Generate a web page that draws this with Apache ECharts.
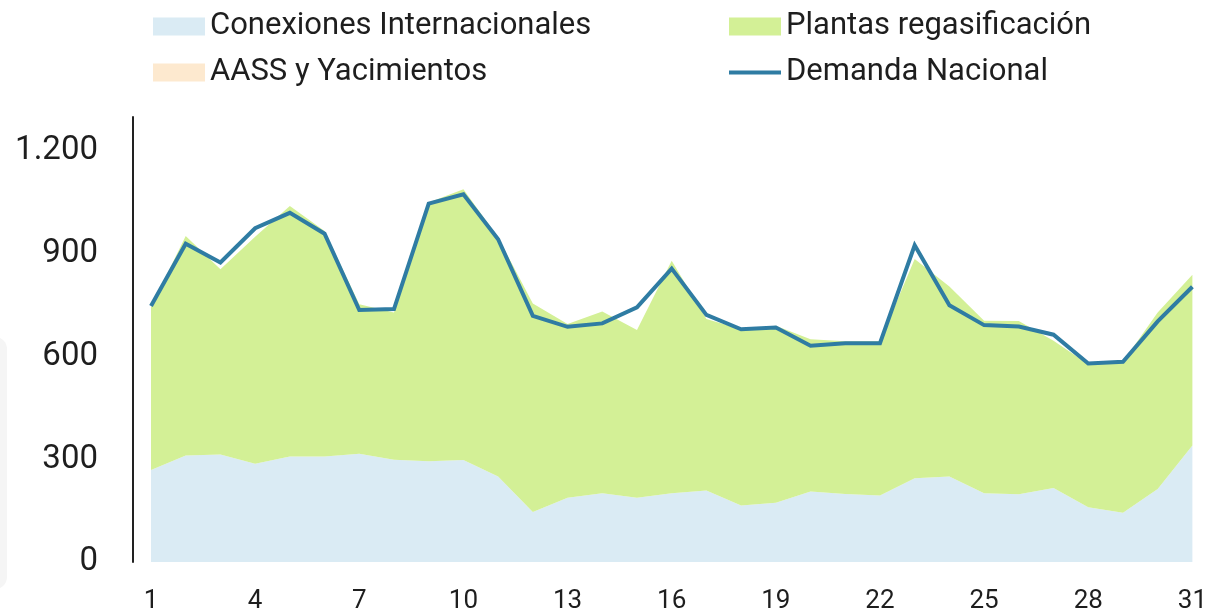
<!DOCTYPE html>
<html>
<head>
<meta charset="utf-8">
<script src="https://cdn.jsdelivr.net/npm/echarts@6/dist/echarts.min.js"></script>
<style>
  html, body { margin: 0; padding: 0; background: #ffffff; }
  #chart { width: 1210px; height: 615px; }
</style>
</head>
<body>
<div id="chart"></div>
<script>
// ---- Data (GWh/día) ----
const days = ['1','2','3','4','5','6','7','8','9','10','11','12','13','14','15','16','17','18','19','20','21','22','23','24','25','26','27','28','29','30','31'];
const conexionesInternacionales = [269,311,314,287,308,308,316,299,294,298,250,146,188,201,188,201,209,165,173,206,199,194,245,250,201,198,216,160,144,213,340];
const plantasRegasificacion = [476,641,541,663,732,659,437,430,756,791,698,609,507,531,490,679,501,515,517,445,446,451,640,555,504,506,430,418,441,516,499];
const aassYacimientos = [3,-22,20,25,-20,-8,-17,10,-3,-15,-5,-36,-8,-35,66,-23,12,0,0,-19,-6,-6,40,-55,-13,-16,18,2,0,-26,-35];
const demandaNacional = [748,930,875,975,1020,959,736,739,1047,1074,943,719,687,697,744,857,722,680,685,632,639,639,925,750,692,688,664,580,585,703,804];
const yTickLabels = [0, 300, 600, 900, 1200];

const names = {
  con: 'Conexiones Internacionales',
  pla: 'Plantas regasificación',
  aass: 'AASS y Yacimientos',
  dem: 'Demanda Nacional'
};
const colors = {
  con: '#daebf4',
  pla: '#d3f096',
  aass: '#fde9cf',
  dem: '#2f7ca3'
};

const FONT = 'Roboto, "Noto Sans", sans-serif';
const legendText = { fontFamily: FONT, fontSize: 31, color: '#1e1e1e' };

function fmt(v) {
  return String(v).replace(/\B(?=(\d{3})+(?!\d))/g, '.');
}

const chart = echarts.init(document.getElementById('chart'), null, { renderer: 'canvas' });

const option = {
  animation: false,
  backgroundColor: '#ffffff',
  graphic: [{
    type: 'rect', silent: true, z: -10,
    shape: { x: -30, y: 337, width: 37, height: 252, r: 12 },
    style: { fill: '#f5f5f5' }
  }],
  legend: [
    { data: [{ name: names.con, icon: 'rect' }], left: 148, top: 6, itemWidth: 52, itemHeight: 18, itemGap: 0, textStyle: legendText, selectedMode: false },
    { data: [{ name: names.pla, icon: 'rect' }], left: 724, top: 6, itemWidth: 52, itemHeight: 18, itemGap: 0, textStyle: legendText, selectedMode: false },
    { data: [{ name: names.aass, icon: 'rect' }], left: 148, top: 52, itemWidth: 52, itemHeight: 18, itemGap: 0, textStyle: legendText, selectedMode: false },
    { data: [{ name: names.dem, icon: 'rect' }], left: 724, top: 52, itemWidth: 52, itemHeight: 4, itemGap: 0, textStyle: legendText, selectedMode: false }
  ],
  grid: { left: 151, right: 12, top: 117, bottom: 53, containLabel: false },
  xAxis: {
    type: 'category',
    data: days,
    boundaryGap: false,
    axisLine: { show: false },
    axisTick: { show: false },
    splitLine: { show: false },
    axisLabel: {
      interval: 2,
      margin: 26,
      fontFamily: FONT,
      fontSize: 26,
      color: '#1e1e1e'
    }
  },
  yAxis: {
    type: 'value',
    min: 0,
    max: 1300,
    interval: 100,
    offset: 18,
    axisLine: { show: true, lineStyle: { color: '#222222', width: 2 } },
    axisTick: { show: false },
    splitLine: { show: false },
    axisLabel: {
      margin: 35,
      fontFamily: FONT,
      fontSize: 33,
      color: '#1e1e1e',
      formatter: function (v) { return yTickLabels.indexOf(v) >= 0 ? fmt(v) : ''; }
    }
  },
  series: [
    {
      name: names.aass,
      type: 'line',
      data: aassYacimientos,
      symbol: 'none',
      color: colors.aass,
      lineStyle: { width: 0 },
      areaStyle: { color: colors.aass, opacity: 1 },
      z: 1
    },
    {
      name: names.con,
      type: 'line',
      stack: 'total',
      data: conexionesInternacionales,
      symbol: 'none',
      color: colors.con,
      lineStyle: { width: 0 },
      areaStyle: { color: colors.con, opacity: 1 },
      z: 2
    },
    {
      name: names.pla,
      type: 'line',
      stack: 'total',
      data: plantasRegasificacion,
      symbol: 'none',
      color: colors.pla,
      lineStyle: { width: 0 },
      areaStyle: { color: colors.pla, opacity: 1 },
      z: 2
    },
    {
      name: names.dem,
      type: 'line',
      data: demandaNacional,
      symbol: 'none',
      color: colors.dem,
      lineStyle: { width: 4, color: colors.dem, join: 'miter' },
      z: 5
    }
  ]
};

chart.setOption(option);
</script>
</body>
</html>
